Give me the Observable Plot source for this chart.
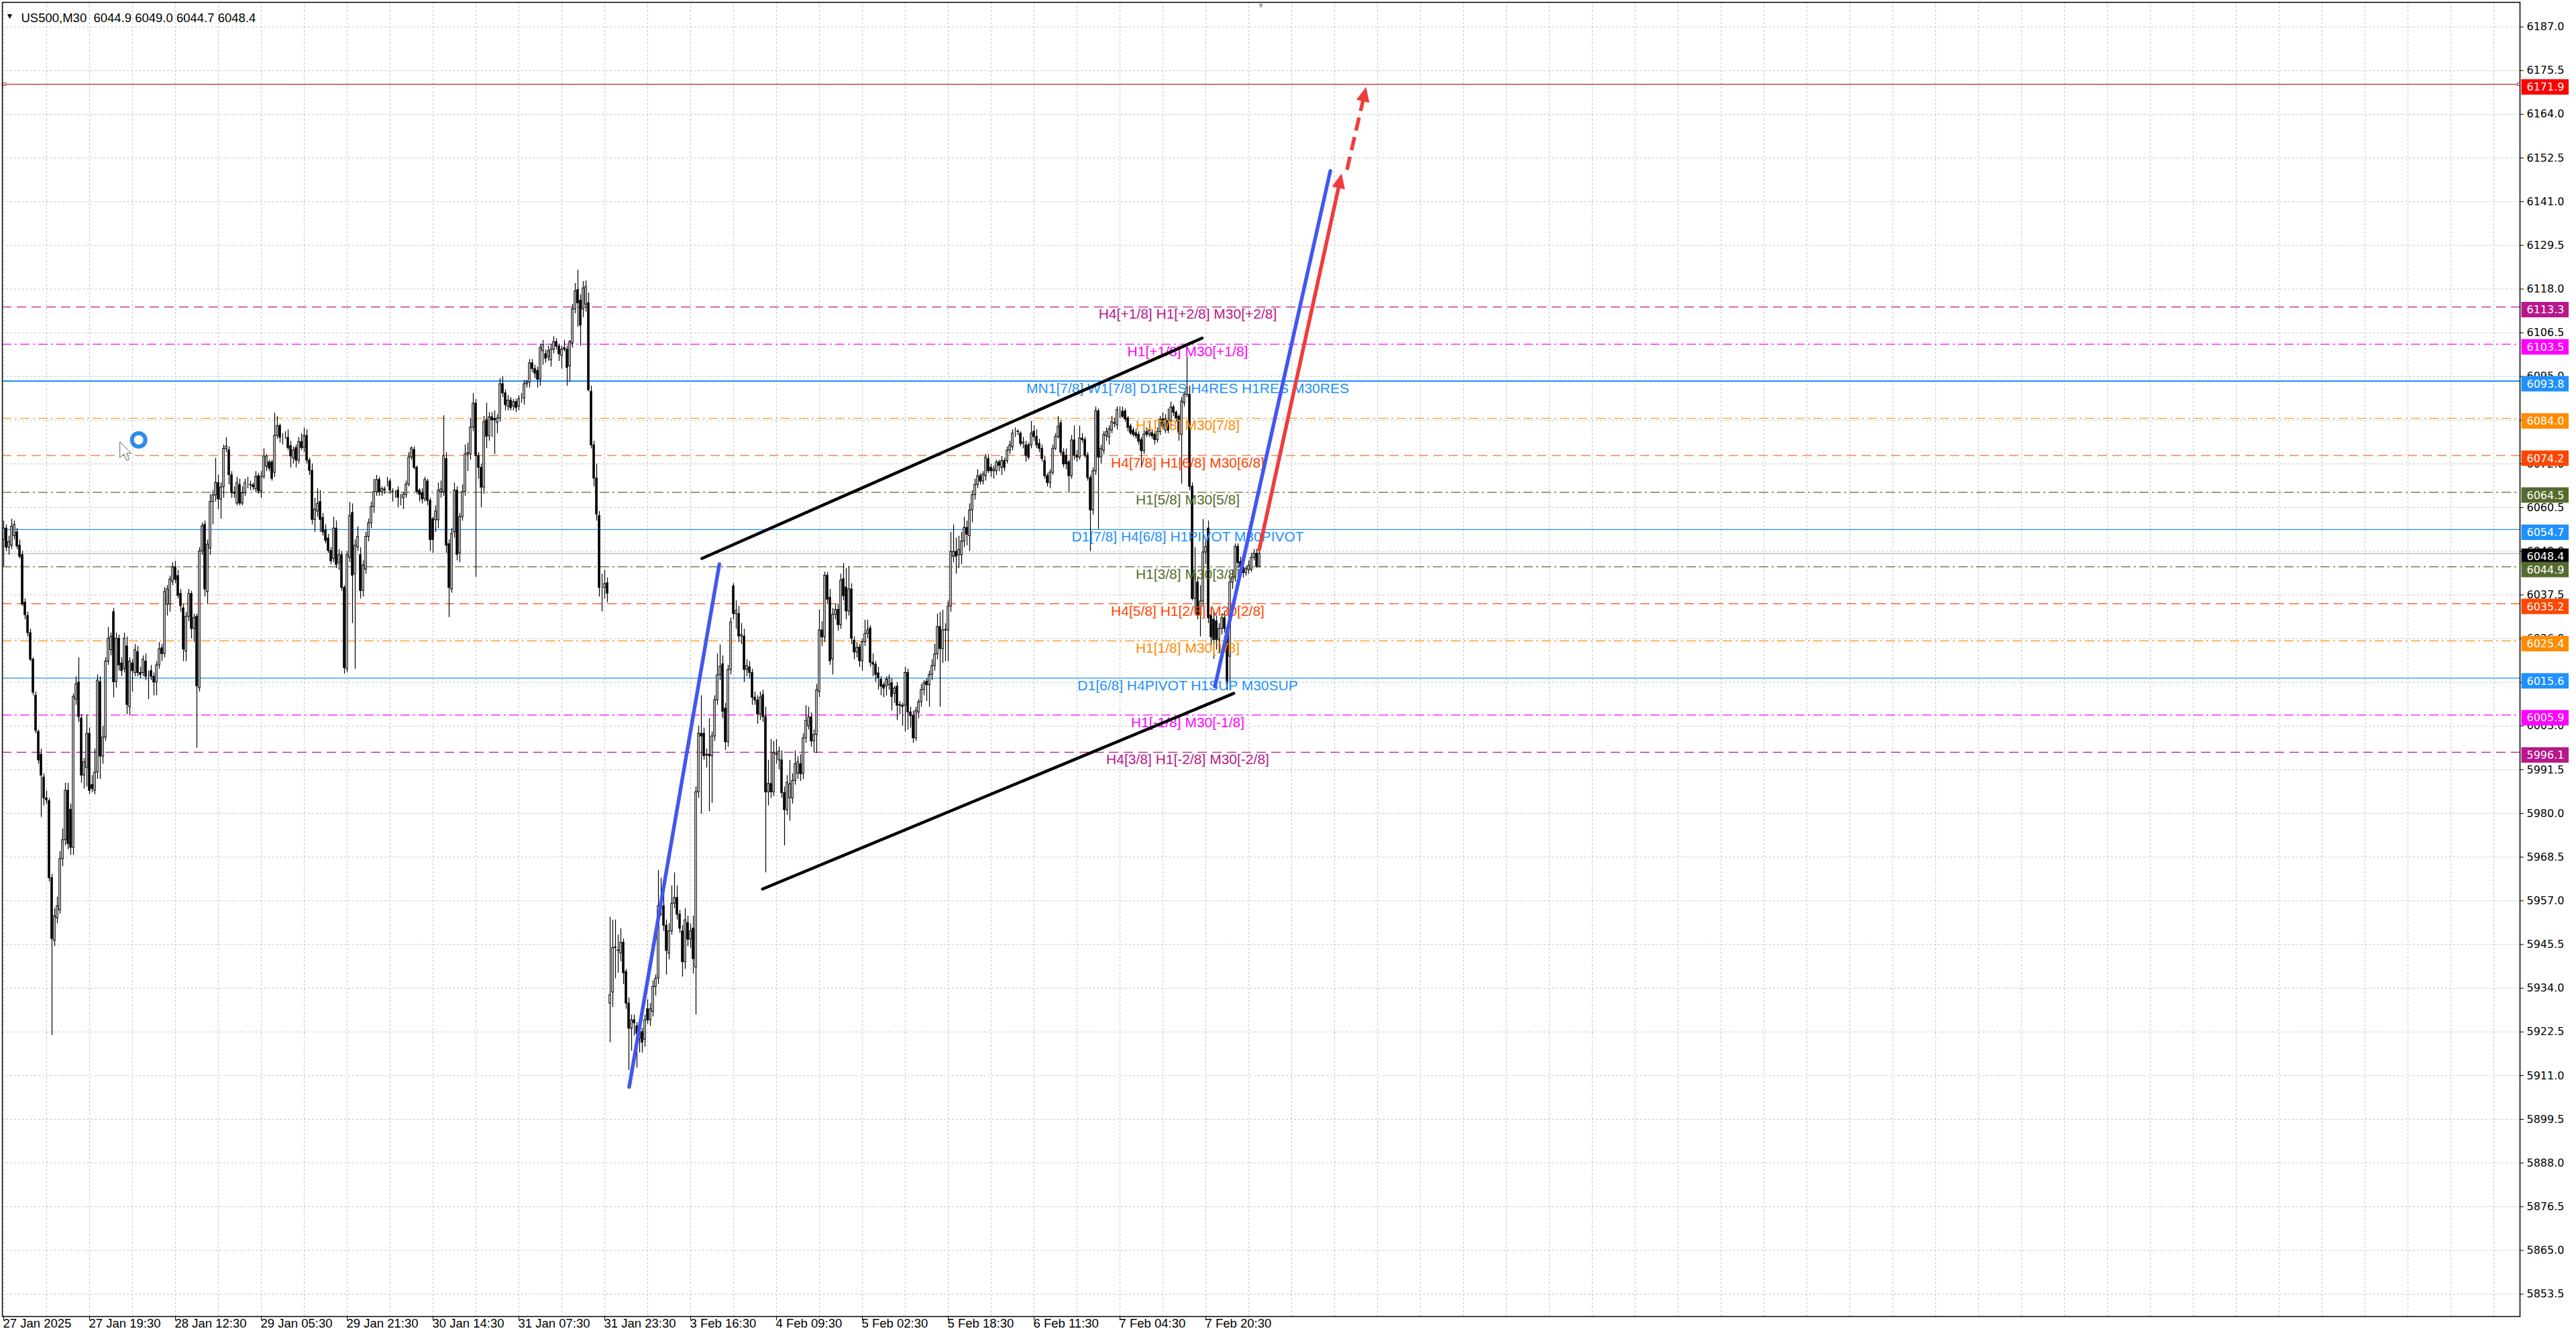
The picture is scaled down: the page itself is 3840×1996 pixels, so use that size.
<!DOCTYPE html>
<html><head><meta charset="utf-8">
<script src="https://cdn.jsdelivr.net/npm/d3@7"></script>
<script src="https://cdn.jsdelivr.net/npm/@observablehq/plot@0.6"></script>
<style>html,body{margin:0;padding:0;background:#fff;overflow:hidden}#chart svg{display:block}</style>
</head><body><div id="chart"></div>
<script>
// ---------------- DATA ----------------
const symbolName = "US500,M30";
const opens = [6052,6055,6050,6050.5,6053,6054,6050.5,6048,6035.5,6032,
6027.5,6020.5,6011,6001.5,5995.5,5989.5,5984,5983.3,5963,5946.5,
5952.4,5954.5,5968,5973,5986,5981,5971,6010,6014.5,6005,
5990,5992,6001,5987.5,5986,5990.8,6014.6,5995,6000,6020,
6023,6033,6014.6,6026,6019.5,6018,6024,6008,6019.5,6017,
6022.5,6017,6017,6020,6017,6017.5,6016,6014.5,6019,6023.5,
6022,6035,6035,6041,6044.8,6042.5,6037.8,6034,6022.6,6031.8,
6037.8,6028.6,6031.8,6013,6049,6056,6038.3,6049.7,6062,6063.7,
6067,6062.6,6065.9,6075.9,6075.6,6069,6064.5,6061.6,6066.5,6061.6,
6064.3,6067,6066.5,6066.4,6065.4,6068.8,6064.8,6068.6,6071.3,6072.4,
6072.4,6069.7,6079.4,6082,6078.9,6079.4,6078.9,6076.7,6073.5,6076.2,
6072.9,6077.8,6076.2,6079.4,6072.9,6070.2,6057.3,6059.5,6062,6057.8,
6054.5,6052.4,6049.1,6047,6055,6045.9,6048,6039.4,6018,6047.3,
6059.1,6043,6050.1,6048,6038.6,6044.2,6052.8,6056.4,6060.7,6064.6,
6067.8,6064.6,6065.3,6067.4,6067.4,6064.7,6064.6,6065,6063.1,6063,
6063.9,6066.6,6073.7,6075.7,6071,6065,6064.3,6062.7,6067.4,6062.3,
6057.5,6057.2,6057.2,6064.6,6064.6,6073.3,6050.9,6039,6054,6065,
6048.5,6058,6064.6,6074.5,6074.5,6081.6,6087.9,6074.1,6071,6065.8,
6083.5,6079.3,6084.3,6083.9,6082.8,6084,6093,6090.6,6087.1,6088.7,
6087.1,6088.3,6087.1,6089.1,6089.2,6093,6093.4,6098.5,6097,6096.5,
6094.2,6101.7,6100.9,6100.1,6099.3,6102.1,6104.1,6102.9,6100.5,6102.5,
6102.1,6097.7,6103.7,6112.7,6117.8,6115,6112.7,6113.9,6114.3,6091,
6076.9,6068.2,6058.3,6040.2,6039.4,6040.6,5930,5932.9,5944.6,5944,
5943.2,5946,5938.3,5930,5923.4,5925.6,5924,5920.7,5922.5,5920.5,
5928.5,5925.6,5927.8,5934.4,5936.6,5954.9,5955.6,5950.5,5943.1,5949,
5956.3,5957.8,5953.4,5949,5940.9,5951.2,5946.8,5949.7,5939.5,5985.6,
6001,6001,5995.3,5995.5,5995.1,6000.3,6009.8,6016.4,6019.3,6007.6,
5998.8,6017.8,6039.8,6032.5,6032.5,6026.6,6026.6,6017.8,6018.5,6017,
6010.5,6009.8,6006.1,6011.2,6005.4,5985.6,5987.8,5985.6,5995.6,5994,
5994,5985.4,5980.9,5984,5984,5988.6,5990.5,5993,5990.4,5999.8,
6003,6005.3,5999,6000.7,6012,6028.2,6026.4,6042.6,6036.8,6020.6,
6032.3,6033.6,6029.6,6041.7,6039.5,6033.2,6039,6025.5,6022.4,6023.7,
6020.1,6025.1,6027.3,6028.7,6019.7,6019.2,6016.9,6015.2,6013.8,6013.4,
6013.8,6014.3,6011.5,6013.4,6008.6,6008.4,6008.4,6017,6006.6,6005.7,
5999.8,6006.6,6009.3,6012.5,6014.7,6013.8,6016.5,6018.8,6021.9,6029.1,
6023.3,6028.2,6028.2,6034.5,6047.6,6048.9,6048,6048,6051.6,6055.2,
6053,6059.8,6063.8,6066.5,6068.8,6067.4,6068.8,6073.3,6071,6070.1,
6070.1,6072.4,6071,6072.8,6072.8,6075.5,6076.4,6080.5,6080.5,6080,
6077.3,6076.9,6076.9,6076.9,6080.5,6079.1,6077.3,6076,6072.8,6068.8,
6067,6069.7,6076,6079.1,6082.7,6075,6074.2,6072.4,6068.8,6078.2,
6074.2,6073.7,6078.7,6078.3,6074.2,6068.3,6059.8,6070.1,6085.9,6073.7,
6075.5,6079.3,6079,6080.8,6082.6,6082.2,6085.5,6085.8,6085.8,6084,
6081.9,6080.8,6080.1,6079.7,6078.3,6075.4,6080.4,6079.7,6080.1,6079.7,
6078.3,6080.4,6083.7,6080.8,6083.3,6083.3,6086.9,6085.5,6084.4,6079.7,
6088,6090.2,6090.2,6066,6036.5,6040.8,6032.2,6035.8,6048.7,6055,
6032.2,6031,6030.6,6025.7,6028.6,6031.4,6028.6,6021.3,6040.8,6042.2,
6050.2,6046.2,6044.8,6043.3,6044.1,6044.1,6047.3,6048.4,6044.9];
const highs = [6057,6056,6053,6057.5,6057,6055,6052,6049,6036.5,6033,
6028.5,6021,6012,6002,5997,5990.5,5986,5984,5964,5955,
5958,5970,5976,5988,5988,5982.5,6011.5,6016,6021,6006,
5994.5,6006,6002.5,5990,5997,6016.5,6016,6003,6021,6029,
6027.5,6034,6027.5,6027,6021,6027.5,6026.5,6021,6020.5,6024.5,
6024,6018.5,6021.5,6022,6017.5,6019,6017,6020,6025,6024.5,
6039.5,6040,6042.5,6046,6046.4,6044,6039,6035,6033,6039,
6038.5,6032.5,6032.5,6050,6056.5,6057,6052,6064,6065,6073.5,
6069,6067,6077,6078.9,6076.5,6070,6066,6068.5,6068,6066,
6068,6068.5,6067.5,6067,6070,6069.5,6070,6076,6074.5,6073,
6073,6085.4,6084.5,6082.5,6080,6080.5,6081,6078,6076.5,6077,
6079,6080,6081.5,6081,6073.5,6072,6063,6065.5,6065,6059,
6056,6053.5,6050,6058,6057,6049.5,6049,6040,6049,6061.9,
6061.5,6052,6055.5,6050,6046.5,6054,6057.5,6062,6068,6069,
6068.5,6066,6066,6068.5,6068,6065.5,6065,6066,6064,6064.5,
6067.5,6075,6076.5,6076.5,6071.5,6065.5,6065.5,6068.5,6068,6063,
6058,6061,6067,6067.5,6084.7,6075,6052,6055,6067,6066,
6059,6066.5,6077,6077.5,6084,6090.5,6089,6075,6072,6084.5,
6088,6085.5,6085.5,6086,6085,6094.5,6095,6091.5,6090,6089.5,
6089,6089,6090,6090.5,6094,6094,6099.5,6099.5,6098,6097.5,
6103.5,6104.5,6102,6103,6103.5,6105.5,6105,6103.5,6103,6104.5,
6103,6104.5,6114,6119.5,6123,6116.5,6120,6120.2,6117,6092.5,
6078,6072,6059.5,6043,6044,6042,5952.7,5951.9,5952,5948,
5949.7,5947,5939,5931.5,5927,5927,5925,5923.5,5923.5,5927,
5931,5930,5936,5937.5,5965,5963,5960,5952,5951,5961,
5964.4,5961,5954.5,5950.5,5955,5953,5951,5953,5987,6003,
6011,6002.5,5997,6005,6001.5,6011,6022,6024.4,6021.5,6009,
6019,6031.5,6040.5,6036,6034.5,6030,6028.5,6020.5,6020,6018,
6012,6011,6012,6012.5,6008,5994,5999.5,5999,5999.5,5997.5,
5996.5,5987,5990,5994,5990.5,5996.5,5995,5995.5,6001,6008.4,
6008,6006.5,6002,6014,6033.6,6030.5,6043.5,6043.5,6039,6034,
6035,6035,6043,6045.8,6044.5,6045,6040.5,6026.5,6025,6024.5,
6026,6030.9,6030.9,6029.5,6022,6020,6018.5,6016,6014.5,6016,
6016.5,6015.5,6013.5,6014.5,6009.5,6009,6018.5,6018,6008,6007,
6008,6010,6014,6015,6015.5,6017.5,6020.5,6024.5,6032.5,6033,
6033.5,6030,6036,6054,6056,6052.5,6053,6054,6058,6057,
6061.5,6065,6068,6070.5,6069.5,6070,6074.5,6074.5,6072,6071.5,
6073,6073,6074,6073.5,6076.5,6078,6081,6081.5,6081,6080.5,
6079,6078,6077.5,6083.2,6082,6081,6078.5,6077,6074,6069.5,
6070.5,6077,6080,6084.5,6083.5,6076,6076,6073,6079.5,6082,
6075.5,6082,6080,6079,6075,6069,6071,6087,6086.5,6077,
6080.5,6081.5,6082,6084.5,6084,6087,6087,6087,6086.5,6084.5,
6082.5,6081.5,6081,6080.5,6079,6081.5,6081.5,6082.5,6081,6080.5,
6081.5,6084.5,6085.5,6085,6086.5,6088.3,6087.5,6086,6085,6089.5,
6091,6100.2,6092.5,6067,6050,6042,6040,6057.4,6052,6057,
6034,6033,6032,6030,6032.5,6033,6029.5,6042.5,6044,6051,
6051,6047.5,6045.5,6045,6046.5,6048.5,6049.5,6049.5,6049.0];
const lows = [6045,6049,6048,6049.5,6052,6049.5,6047,6034.5,6031,6026.5,
6020,6011,6001,5993,5979,5982,5982.5,5962,5921.6,5945,
5951,5953.5,5966,5971.5,5970.5,5969,5969,6008.5,6004,5988,
5986.5,5987,5985,5985.5,5985,5989,5989,5993,5999,6019,
6021.5,6010.5,6013,6017.5,6016,6017,6006,6006,6012,6016,
6016,6015.5,6016,6015,6010,6015,6011,6011,6018,6020,
6021,6032,6033,6040,6040.5,6036.5,6033,6020,6020,6030.5,
6026,6025,5997.2,6012,6048,6037,6035,6048,6056,6062,
6060,6057.5,6063,6075,6066.5,6063,6063,6061,6061,6061,
6063.5,6065.5,6065,6065,6064.5,6064,6063,6068,6070,6070,
6067.5,6068.5,6078.5,6077.5,6077,6078.5,6075.5,6071,6072,6071,
6072,6075.5,6075,6072,6069,6056,6054,6058,6054,6053,
6051,6048.5,6045.5,6046,6044.5,6044,6038.5,6016.7,6017,6046,
6030,6018,6049,6036.5,6037,6043,6051.5,6055,6059,6063.5,
6063.5,6063.5,6064,6066,6064,6062,6063,6060.5,6061,6060,
6063,6066,6073,6070.5,6064,6062,6061.5,6062,6061,6049,
6048.5,6054,6055,6063,6063.5,6048.5,6031.6,6038,6052.5,6046.5,
6046,6057,6063.5,6070,6073,6080.5,6042.2,6068,6060.5,6064,
6076,6078,6079,6074.5,6080,6083,6089.5,6086,6086,6086,
6086,6085.5,6086,6088,6087.5,6092,6092,6096,6094.5,6092,
6092.5,6098,6098.5,6099,6097.5,6101,6102,6099,6097,6101.5,
6092.5,6093.5,6102.5,6111.5,6108,6103,6110.5,6112,6091,6076,
6066,6057,6037,6033.1,6036.5,6035.5,5919.7,5929,5936.5,5938,
5941,5935,5928.5,5912.4,5917.5,5921.5,5913,5917,5917,5918.5,
5924.5,5924,5926.5,5932,5935,5953,5949,5937.5,5941.5,5948,
5955,5952,5948.5,5937,5939,5945,5944.5,5937.8,5927,5984,
5979.8,5994,5992,5980.5,5982.7,5999,6008.5,6015,6005,5996.6,
5997.5,6016.5,6031,6028.5,6025,6024.5,6014.5,6016,6015.5,6008.5,
6008.5,6003.5,6004.5,6004,5964.4,5982,5984,5984.5,5993,5991.5,
5984,5971.5,5979.5,5978,5982.5,5987.5,5989,5988.5,5989,5998.5,
6002,5997.5,5996,5995.8,6010.5,6024,6025,6035,6019,6016.5,
6031,6028,6028.5,6036,6031,6032,6024.5,6020.5,6021,6018.5,
6017.5,6024,6026,6018.5,6016,6014.5,6012.5,6011,6010.5,6011,
6012.5,6007,6009,6004.5,6006,6003,6001.5,6002,6002.5,5998.5,
5999,6005,6008,6011,6009.5,6008,6015,6017.5,6020.5,6008,
6019.5,6020,6020,6033,6046,6043,6044.5,6045.5,6050,6050.5,
6049,6056.5,6062.5,6065.5,6066.5,6066.5,6067.5,6069.5,6068.5,6068,
6069,6070,6069,6070,6072,6074.5,6075.5,6079,6079.5,6076.5,
6076,6072.5,6073,6076,6078,6076,6075,6072.5,6068,6066,
6065.5,6069,6075.5,6078.5,6074,6071,6070.5,6064.3,6068,6073,
6072.5,6073,6077.5,6073.5,6067.5,6049,6058.5,6069,6054.8,6072,
6074.5,6078,6077,6080,6081.5,6081,6084,6084,6083,6080.5,
6079.5,6079,6078.5,6077,6071,6074.5,6079,6079,6078.5,6077,
6077.5,6079.5,6081,6080,6080,6082,6084.5,6083,6078,6066.7,
6087,6089.5,6065,6036,6033,6031,6026.5,6034.5,6045.5,6030,
6024,6020.6,6023,6022,6027,6027.5,6012.4,6012.5,6039,6041,
6044.5,6043.5,6042,6042.5,6043,6043.5,6046.5,6044.5,6044.7];
const closes = [6055,6050,6051.5,6055.5,6056,6050.3,6047.6,6035,6032.2,6027.5,
6020.5,6011.8,6001.8,5994,5990,5984,5983.5,5963,5947,5953,
5955.6,5968,5973,5986,5972,5971,6010.7,6014,6005.4,5990,
5993.5,6001,5986,5986.5,5990.8,6015,5995,6000,6020,6026,
6026.5,6014.6,6026,6019,6017.5,6026,6008.6,6020,6017.5,6023,
6017,6016.5,6020.5,6016,6017,6016,6014.5,6019,6023.2,6022,
6038.3,6039,6041.6,6044.8,6041.5,6037.3,6034.6,6023.2,6031.8,6037.8,
6028.6,6031.5,6013.5,6049,6055.6,6039,6050.8,6062,6063.7,6067,
6062.7,6065.8,6076,6076.6,6069.1,6064.3,6064.2,6067,6061.6,6064.3,
6067,6067,6066.4,6065.9,6068.6,6064.8,6068.6,6074,6074,6070.8,
6068.1,6079.4,6082,6078.9,6078.9,6079.4,6076.2,6074,6075.6,6072.9,
6077.8,6076.2,6079.4,6072.9,6070.2,6057.3,6060,6061.5,6057.3,6054,
6051.8,6049.1,6046.4,6055,6045.4,6048,6039.4,6018.3,6048,6058.3,
6042.6,6050.5,6052.8,6038.6,6045.3,6052.8,6056.4,6060.7,6064.6,6067.8,
6064.6,6065.4,6065,6067.4,6065,6064.6,6064.6,6063.1,6063.1,6063.9,
6066.6,6073.7,6076.1,6071,6064.6,6063.9,6062.7,6067.8,6062.3,6052,
6052,6059.5,6065,6065.3,6074.1,6050.5,6039.4,6053.6,6065,6048.1,
6058,6064.6,6074.5,6074.9,6081.6,6087.9,6074.1,6071,6065.8,6083,
6079.2,6084.3,6083.5,6083.5,6084,6093,6090.6,6087.5,6088.7,6086.7,
6088.3,6086.7,6089.1,6089.1,6093,6093.4,6098.5,6097,6095.8,6094.2,
6102.5,6103.3,6099.7,6101.7,6102.1,6104.1,6102.9,6100.9,6102.1,6102.1,
6097.3,6104.1,6112.7,6117.4,6114.3,6108.4,6118.2,6118.6,6091.4,6076.9,
6068.2,6058.7,6039.4,6040.2,6040.4,6037.9,5932.2,5944.6,5944.8,5943.9,
5946,5938,5930,5923.4,5925.6,5924.8,5922,5922.2,5919.7,5925.6,
5925.6,5928.5,5934.4,5936.5,5955.6,5956.3,5950.5,5943.9,5949,5956.3,
5957.8,5953.4,5949.7,5940.9,5951.9,5946.8,5949,5941.7,5985.6,6001,
6000.3,5995.1,5995.5,5995.1,6000.3,6009.8,6016.4,6018.6,6006.8,5998.8,
6017.8,6030.3,6032.5,6033.3,6026.6,6027,6017.8,6018.8,6017,6010.5,
6009.8,6006.1,6010.5,6005.4,5985.6,5987.8,5985.6,5995.9,5995.5,5996.3,
5985.4,5980.9,5988.1,5987.7,5988.6,5993,5993.5,5990.4,5999.8,6004.4,
6005.3,5999,6000.7,6012.5,6028.2,6026.4,6042.6,6036.3,6020.1,6032.3,
6033.6,6029.6,6041.3,6037.2,6033.2,6039,6026,6022.4,6023.6,6020.1,
6025.1,6027.3,6028.2,6019.7,6019.2,6016.5,6015.6,6013.4,6012.9,6015.2,
6015.6,6010.7,6012.9,6008.4,6008.4,6008.1,6017,6006.6,6005.7,5999.8,
6007,6009.3,6012.5,6014.3,6013.8,6016.5,6018.8,6021.9,6029.1,6023.3,
6028.2,6028.3,6034.5,6048.9,6048.9,6047.6,6049.4,6051.6,6055.2,6053.4,
6059.8,6063.8,6066.5,6068.8,6067.4,6069.2,6073.7,6070.1,6070.1,6070.6,
6072.4,6071.5,6072.8,6071,6075.5,6076.9,6080,6080.5,6080.4,6077.3,
6077.7,6074.2,6073.7,6080,6079.1,6076.9,6076,6073.3,6068.8,6067,
6069.7,6076,6079.1,6081.8,6075,6071.9,6071.9,6068.8,6078.2,6074.2,
6073.7,6078.7,6078.3,6074.2,6068.3,6059.8,6070.1,6085.9,6073.7,6076,
6079.6,6080.4,6081.1,6083,6082.8,6086.2,6085.5,6084.4,6083.7,6081.5,
6080.1,6079.7,6079.3,6077.9,6075.4,6079.7,6079.7,6080.8,6079.3,6078.3,
6080.4,6083.7,6081.9,6083.7,6080.8,6086.9,6085.5,6084,6080.1,6088.4,
6090.2,6092,6066,6036.5,6043,6032.2,6035.8,6048.7,6050.2,6031.4,
6026.4,6025.7,6025.7,6028.6,6031.4,6028.6,6014.2,6040.8,6042.2,6050.2,
6045.9,6044.8,6043.3,6044.4,6045.2,6047.3,6048.4,6045.1,6048.4];

const timeLabels = ["27 Jan 2025","27 Jan 19:30","28 Jan 12:30","29 Jan 05:30","29 Jan 21:30","30 Jan 14:30","31 Jan 07:30","31 Jan 23:30","3 Feb 16:30","4 Feb 09:30","5 Feb 02:30","5 Feb 18:30","6 Feb 11:30","7 Feb 04:30","7 Feb 20:30"];
const timeLabelBars = [0,32,64,96,128,160,192,224,256,288,320,352,384,416,448];
const gridBars = [0,16,32,48,64,80,96,112,128,144,160,176,192,208,224,240,256,272,288,304,320,336,352,368,384,400,416,432,448,464,480,496,512,528,544,560,576,592,608,624,640,656,672,688,704,720,736,752,768,784,800,816,832,848,864,880,896,912,928];
const gridPrices = [6187.0,6175.5,6164.0,6152.5,6141.0,6129.5,6118.0,6106.5,6095.0,6083.5,6072.0,6060.5,6049.0,6037.5,6026.0,6014.5,6003.0,5991.5,5980.0,5968.5,5957.0,5945.5,5934.0,5922.5,5911.0,5899.5,5888.0,5876.5,5865.0,5853.5];

const levelPrices = [6113.3,6103.5,6093.8,6084.0,6074.2,6064.5,6054.7,6044.9,6035.2,6025.4,6015.6,6005.9,5996.1];
const levelNames = ["H4[+1/8] H1[+2/8] M30[+2/8]","H1[+1/8] M30[+1/8]","MN1[7/8] W1[7/8] D1RES H4RES H1RES M30RES","H1[7/8] M30[7/8]","H4[7/8] H1[6/8] M30[6/8]","H1[5/8] M30[5/8]","D1[7/8] H4[6/8] H1PIVOT M30PIVOT","H1[3/8] M30[3/8]","H4[5/8] H1[2/8] M30[2/8]","H1[1/8] M30[1/8]","D1[6/8] H4PIVOT H1SUP M30SUP","H1[-1/8] M30[-1/8]","H4[3/8] H1[-2/8] M30[-2/8]"];
const levelColors = ["#b8178a","#ff00ff","#1e90ff","#ff8c00","#ff4500","#556b2f","#1e90ff","#556b2f","#ff4500","#ff8c00","#1e90ff","#ff00ff","#b8178a"];
const levelStyles = ["dash","dashdot","solid2","dashdot","dash","dashdot","solid","dashdot","dash","dashdot","solid","dashdot","dash"];
const targetPrice = 6171.9;
const bidPrice = 6048.4;
const tagPrices = [6171.9,6113.3,6103.5,6093.8,6084.0,6074.2,6064.5,6054.7,6048.4,6044.9,6035.2,6025.4,6015.6,6005.9,5996.1];
const tagColors = ["#ff0000","#b8178a","#ff00ff","#1e90ff","#ff8c00","#ff4500","#556b2f","#1e90ff","#000000","#556b2f","#ff4500","#ff8c00","#1e90ff","#ff00ff","#b8178a"];

// drawn objects: [bar, price] end points
const channelUpper = [[260.2,6047.1],[446.6,6105.1]];
const channelLower = [[282.8,5960.1],[458.4,6011.6]];
const blueTrend1 = [[233.1,5908.0],[266.7,6045.6]];
const blueTrend2 = [[451.4,6013.4],[494.4,6149.1]];
const redArrowSolid = [[467.9,6049.45],[498.6,6148.4]];
const redArrowDashed = [[500.6,6149.4],[507.75,6171.2]];
const cursorRing = [[50.3,6078.3]];
const cursorArrow = [[43.3,6077.8]];

// ---------------- LAYOUT ----------------
const W = 3840, H = 1996, mL = 3, mR = 84, mT = 3, mB = 34;
const xDomain = [-0.5, 937.75];
const yDomain = [5847.6, 6193.46];
const kx = (W - mL - mR) / (xDomain[1] - xDomain[0]);
const ky = (H - mT - mB) / (yDomain[1] - yDomain[0]);
const pxToBar = px => xDomain[0] + (px - mL) / kx;
const textBar = pxToBar(1770);
const tagShift = 4.5; // px the price tags sit below their level

const candles = opens.map((o, i) => ({i, o, h: highs[i], l: lows[i], c: closes[i]}));
const up = candles.filter(d => d.c >= d.o);
const dn = candles.filter(d => d.c < d.o);

const dashes = {dash: "14,8", dashdot: "14,5,3,5", solid: null, solid2: null};

function shorten(seg, px) {
  const [[x1, y1], [x2, y2]] = seg;
  const dx = (x2 - x1) * kx, dy = (y2 - y1) * ky, len = Math.hypot(dx, dy);
  return [[x1, y1], [x2 - dx / len * px / kx, y2 - dy / len * px / ky]];
}
function angleOf(seg) {
  const [[x1, y1], [x2, y2]] = seg;
  return Math.atan2((x2 - x1) * kx, (y2 - y1) * ky) * 180 / Math.PI;
}
const headSymbol = {draw(ctx) { ctx.moveTo(0, 0); ctx.lineTo(-10, 22); ctx.lineTo(10, 22); ctx.closePath(); }};
const cursorSymbol = {draw(ctx) { ctx.moveTo(0,0); ctx.lineTo(0,24); ctx.lineTo(6,18); ctx.lineTo(10,28); ctx.lineTo(14,26); ctx.lineTo(10,17); ctx.lineTo(17,17); ctx.closePath(); }};

const marks = [];
// grid
marks.push(Plot.ruleX(gridBars, {x: d => d, stroke: "#c4c4c4", strokeDasharray: "3,3"}));
marks.push(Plot.ruleY(gridPrices, {y: d => d, stroke: "#c4c4c4", strokeDasharray: "3,3"}));
// level lines
levelPrices.forEach((p, k) => {
  const st = levelStyles[k];
  marks.push(Plot.ruleY([p], {y: d => d, stroke: levelColors[k], strokeWidth: st === "solid2" ? 2 : 1.2, strokeDasharray: dashes[st] || undefined}));
});
marks.push(Plot.ruleY([targetPrice], {y: d => d, stroke: "#b52a2a", strokeWidth: 1.3}));
marks.push(Plot.ruleY([bidPrice], {y: d => d, stroke: "#c0c0c0", strokeWidth: 1.5}));
// candles
marks.push(Plot.ruleX(candles, {x: "i", y1: "l", y2: "h", stroke: "black", strokeWidth: 1.2}));
marks.push(Plot.rect(up, {x1: d => d.i - 0.3, x2: d => d.i + 0.3, y1: "o", y2: "c", fill: "white", stroke: "black", strokeWidth: 1.1}));
marks.push(Plot.rect(dn, {x1: d => d.i - 0.3, x2: d => d.i + 0.3, y1: "o", y2: "c", fill: "black", stroke: "black", strokeWidth: 1.1}));
// level texts
levelPrices.forEach((p, k) => {
  marks.push(Plot.text([p], {x: () => textBar, y: d => d, text: () => levelNames[k], fill: levelColors[k], dy: 11, fontSize: 21, fontFamily: "Liberation Sans, Arial, sans-serif", textAnchor: "middle"}));
});
// trendlines
const lineOpts = (stroke, w, dash) => ({x: d => d[0], y: d => d[1], stroke, strokeWidth: w, strokeLinecap: "round", strokeDasharray: dash});
marks.push(Plot.line(channelUpper, lineOpts("black", 4.5)));
marks.push(Plot.line(channelLower, lineOpts("black", 4.5)));
marks.push(Plot.line(blueTrend1, lineOpts("#4157f0", 5.5)));
marks.push(Plot.line(blueTrend2, lineOpts("#4157f0", 5.5)));
marks.push(Plot.line(shorten(redArrowSolid, 16), lineOpts("#f03c3c", 5.5)));
marks.push(Plot.line(shorten(redArrowDashed, 16), {...lineOpts("#f03c3c", 5.5), strokeLinecap: "butt", strokeDasharray: "20,10"}));
[redArrowSolid, redArrowDashed].forEach(seg => {
  marks.push(Plot.dot([seg[1]], {x: d => d[0], y: d => d[1], symbol: headSymbol, fill: "#f03c3c", stroke: "none", r: 5, rotate: angleOf(seg)}));
});
// cursor artefacts
marks.push(Plot.dot(cursorRing, {x: d => d[0], y: d => d[1], r: 10, stroke: "#2f8de4", strokeWidth: 6, fill: "none"}));
marks.push(Plot.dot(cursorArrow, {x: d => d[0], y: d => d[1], symbol: cursorSymbol, r: 5, fill: "white", stroke: "#666", strokeWidth: 1}));
// right axis
const xEnd = xDomain[1];
marks.push(Plot.ruleY(gridPrices, {y: d => d, x1: xEnd, x2: xEnd + 6 / kx, stroke: "black"}));
marks.push(Plot.text(gridPrices, {x: pxToBar(3766), y: d => d, text: d => d.toFixed(1), textAnchor: "start", fontSize: 16, fontFamily: "DejaVu Sans, Verdana, sans-serif", fill: "black"}));
tagPrices.forEach((p, k) => {
  marks.push(Plot.rect([p], {x1: pxToBar(3758.5), x2: pxToBar(3829), y1: d => d - (11.5 + tagShift) / ky, y2: d => d + (11.5 - tagShift) / ky, fill: tagColors[k]}));
  marks.push(Plot.text([p], {x: pxToBar(3766), y: d => d, dy: tagShift, text: d => d.toFixed(1), textAnchor: "start", fontSize: 16, fontFamily: "DejaVu Sans, Verdana, sans-serif", fill: "white"}));
});
// end markers of the target line
marks.push(Plot.dot([[xDomain[0] + 0.8, targetPrice], [xEnd - 0.5, targetPrice]], {x: d => d[0], y: d => d[1], symbol: "square", r: 2.2, stroke: "#b52a2a", fill: "white", strokeWidth: 1}));
// bottom axis
marks.push(Plot.ruleX(timeLabelBars, {x: d => d, y1: yDomain[0], y2: yDomain[0] - 6 / ky, stroke: "black"}));
marks.push(Plot.text(timeLabelBars, {x: d => d, text: (d, i) => timeLabels[i], frameAnchor: "bottom", dy: 16, dx: -1, textAnchor: "start", fontSize: 18.5, fontFamily: "Liberation Sans, Arial, sans-serif", fill: "black"}));
// title
const last = candles[candles.length - 1];
const titleText = `${symbolName}  ${last.o.toFixed(1)} ${last.h.toFixed(1)} ${last.l.toFixed(1)} ${last.c.toFixed(1)}`;
marks.push(Plot.text(["▼"], {frameAnchor: "top-left", dx: 5, dy: 16, text: d => d, textAnchor: "start", fontSize: 12, fill: "black"}));
marks.push(Plot.text([titleText], {frameAnchor: "top-left", dx: 28, dy: 16, text: d => d, textAnchor: "start", fontSize: 18.5, fontFamily: "Liberation Sans, Arial, sans-serif", fill: "black"}));
marks.push(Plot.text(["▼"], {x: () => last.i + 0.5, frameAnchor: "top", dy: 1, text: d => d, fontSize: 11, fill: "#a0a0a0"}));
marks.push(Plot.frame({stroke: "black", strokeWidth: 1.5}));

const chart = Plot.plot({
  width: W, height: H,
  marginLeft: mL, marginRight: mR, marginTop: mT, marginBottom: mB,
  x: {domain: xDomain, axis: null},
  y: {domain: yDomain, axis: null},
  style: {background: "white", overflow: "visible", fontFamily: "Liberation Sans, Arial, sans-serif"},
  marks
});
document.getElementById("chart").appendChild(chart);
</script>
</body></html>
